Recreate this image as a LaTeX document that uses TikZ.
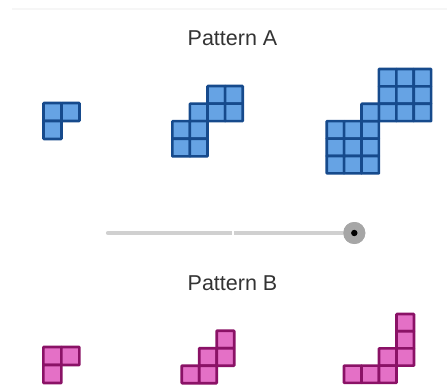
\documentclass[tikz,border=0pt]{standalone}
\usepackage{fontspec}
\setmainfont{Liberation Sans}
\usepackage{xcolor}
\usepackage{tikz}
\definecolor{TileBlue}{RGB}{102,163,228}
\definecolor{EdgeBlue}{RGB}{22,74,140}
\definecolor{TilePink}{RGB}{228,112,198}
\definecolor{EdgePink}{RGB}{138,18,102}
\definecolor{Ink}{RGB}{51,51,51}
\definecolor{Track}{RGB}{208,208,208}
\definecolor{KnobGray}{RGB}{166,166,166}
\definecolor{Rule}{RGB}{246,246,246}

\tikzset{
  bluecell/.style={fill=TileBlue,draw=EdgeBlue,line width=2.6pt,rounded corners=0.6pt},
  pinkcell/.style={fill=TilePink,draw=EdgePink,line width=2.6pt,rounded corners=0.6pt},
  title/.style={text=Ink,font=\fontsize{21.5}{24}\selectfont,anchor=base},
  knob/.style={circle,fill=KnobGray,minimum size=22pt,inner sep=0pt},
}

\begin{document}
\begin{tikzpicture}[x=1pt,y=-1pt]
  \useasboundingbox (0,0) rectangle (447,385);
  \draw[Rule,line width=2pt] (12,9.5) -- (447,9.5);

  \node[title] (titleA) at (232.5,46) {Pattern A};

  % pattern A, steps 1 to 3
  \begin{scope}[shift={(43.5,103)},x=18pt,y=-18pt]
    \foreach \c/\r in {0/0,1/0,0/1}
      \draw[bluecell] (\c,\r) rectangle ++(1,1);
  \end{scope}
  \begin{scope}[shift={(172.3,86)},x=17.6pt,y=-17.6pt]
    \foreach \c/\r in {2/0,3/0,1/1,2/1,3/1,0/2,1/2,0/3,1/3}
      \draw[bluecell] (\c,\r) rectangle ++(1,1);
  \end{scope}
  \begin{scope}[shift={(326.7,69)},x=17.4pt,y=-17.4pt]
    \foreach \c in {3,4,5}
      \foreach \r in {0,1,2}
        \draw[bluecell] (\c,\r) rectangle ++(1,1);
    \foreach \c in {0,1,2}
      \foreach \r in {3,4,5}
        \draw[bluecell] (\c,\r) rectangle ++(1,1);
    \draw[bluecell] (2,2) rectangle ++(1,1);
  \end{scope}

  % slider
  \coordinate (trackL) at (108,233);
  \node[knob] (knob) at (354.3,233) {};
  \draw[Track,line width=4.2pt,line cap=round] (trackL) -- (knob.west);
  \node[fill=white,inner sep=0pt,minimum width=2pt,minimum height=4.5pt] (mid) at (232.6,233) {};
  \node[knob] at (knob.center) {};
  \fill[black] (knob.center) circle (3.2pt);

  \node[title] (titleB) at (232.5,290) {Pattern B};

  % pattern B, steps 1 to 3
  \begin{scope}[shift={(43.3,347)},x=18pt,y=-18pt]
    \foreach \c/\r in {0/0,1/0,0/1}
      \draw[pinkcell] (\c,\r) rectangle ++(1,1);
  \end{scope}
  \begin{scope}[shift={(181.7,330.7)},x=17.5pt,y=-17.5pt]
    \foreach \c/\r in {2/0,1/1,2/1,0/2,1/2}
      \draw[pinkcell] (\c,\r) rectangle ++(1,1);
  \end{scope}
  \begin{scope}[shift={(344,314)},x=17.5pt,y=-17.2pt]
    \foreach \c/\r in {3/0,3/1,2/2,3/2,0/3,1/3,2/3}
      \draw[pinkcell] (\c,\r) rectangle ++(1,1);
  \end{scope}
\end{tikzpicture}
\end{document}
